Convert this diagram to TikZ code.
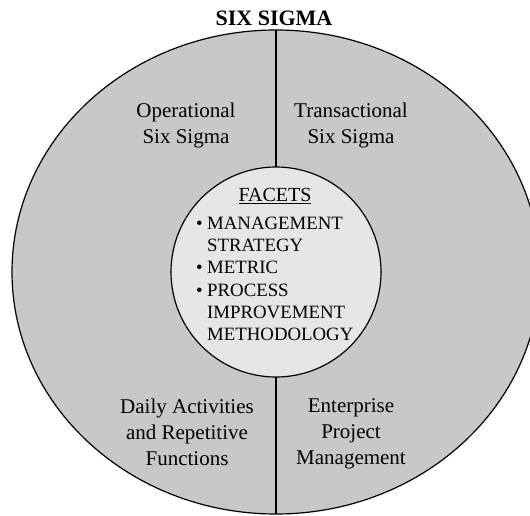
\documentclass[tikz,border=0pt]{standalone}
\usepackage{fontspec}
\setmainfont{Liberation Serif}
\usetikzlibrary{shapes.geometric}
\definecolor{ringgray}{RGB}{199,200,202}
\definecolor{coregray}{RGB}{229,230,232}
\newcommand{\bul}{\makebox[11pt][l]{\textbullet}}
\newcommand{\nobul}{\hspace*{11pt}}

\tikzset{
  quad/.style={align=center, inner sep=0pt, anchor=north,
    font=\fontsize{21}{26}\selectfont},
  facetlist/.style={align=left, inner sep=0pt, anchor=north west,
    font=\fontsize{18.8}{22.3}\selectfont},
}

\begin{document}
\begin{tikzpicture}[x=1pt, y=-1pt]
    \useasboundingbox (0,0) rectangle (530,516);
    \clip (0,0) rectangle (530,516);
    % outer ring and the split
    \node[ellipse, draw, fill=ringgray, line width=1.2pt, minimum width=528pt,
      minimum height=484pt, inner sep=0pt, outer sep=0pt] (sigma) at (276,272) {};
    \draw[line width=2.2pt] (sigma.north) -- (sigma.south);
    \node[circle, draw, fill=coregray, line width=1.2pt, minimum size=210pt,
      inner sep=0pt] (core) at (sigma.center) {};
    % title
    \node[inner sep=0pt, anchor=base, font=\bfseries\fontsize{22}{22}\selectfont]
      (title) at (274,26) {SIX SIGMA};
    % four quadrants
    \node[quad] (opsig) at (186,102.5) {Operational\\Six Sigma};
    \node[quad] (transig) at (351,102.5) {Transactional\\Six Sigma};
    \node[quad] (daily) at (187,398.5) {Daily Activities\\and Repetitive\\Functions};
    \node[quad] (enterprise) at (351,398.5) {Enterprise\\Project\\Management};
    % facets in the centre
    \node[quad, font=\fontsize{20}{24}\selectfont] (facets) at (275,188) {\underline{FACETS}};
    \node[facetlist] (facetitems) at (196,216.5) {\bul MANAGEMENT\\\nobul STRATEGY\\\bul METRIC\\\bul PROCESS\\\nobul IMPROVEMENT\\\nobul METHODOLOGY};
\end{tikzpicture}
\end{document}
